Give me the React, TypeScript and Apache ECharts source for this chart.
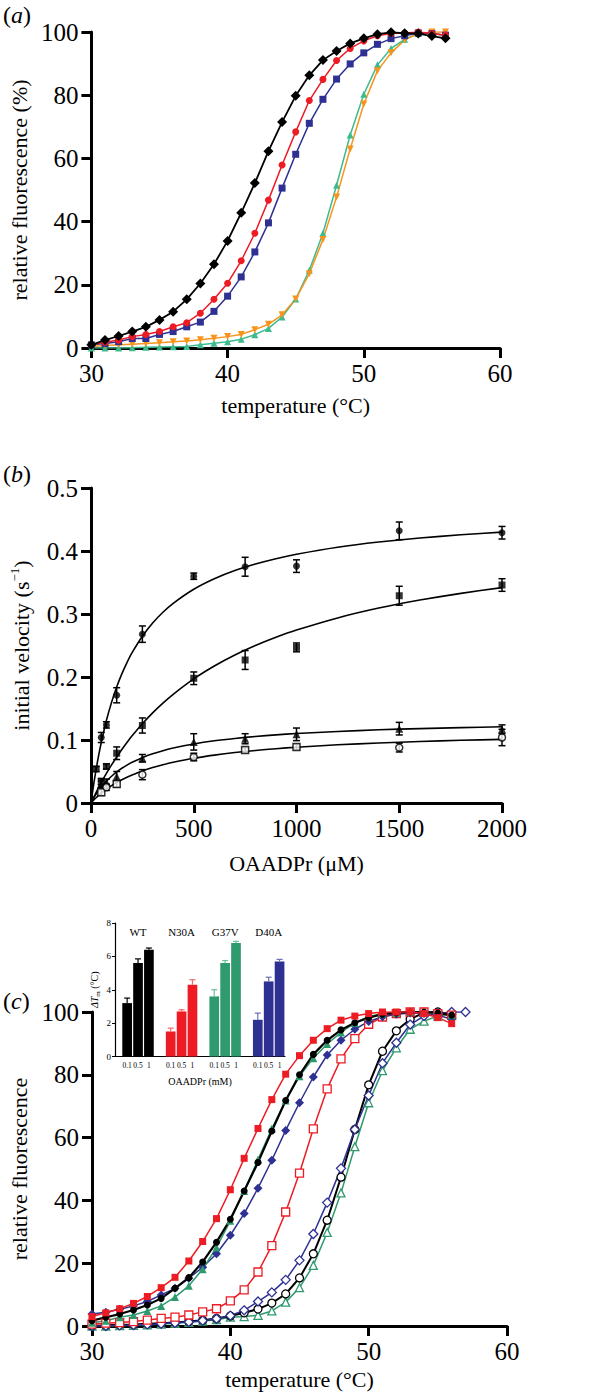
import React, { useEffect, useRef } from "react";
import * as echarts from "echarts";

const SERIF = "Liberation Serif, Times New Roman, serif";

// ---------- Panel (a) ----------
const TEMPS_A = [30, 31, 32, 33, 34, 35, 36, 37, 38, 39, 40, 41, 42, 43, 44, 45, 46, 47, 48, 49, 50, 51, 52, 53, 54, 55, 56];
const A_BLACK = [1, 2.5, 3.8, 5.2, 6.7, 8.9, 11.5, 15.4, 20.4, 26.5, 33.9, 42.8, 52.2, 62.3, 71.5, 79.8, 86.3, 91.1, 94, 96.4, 98, 99.3, 99.9, 99.6, 99.5, 98.7, 98];
const A_RED = [1, 1.8, 2.5, 3.6, 4.3, 5.2, 6.7, 8, 11, 15.4, 20.5, 27.6, 36.3, 46.8, 57.9, 68.4, 78.3, 85, 91, 94.8, 97.2, 98.8, 99.5, 99.7, 100, 99.5, 99];
const A_BLUE = [1, 1.4, 2, 3, 3, 4.3, 5.2, 6.7, 8.2, 11.6, 16.4, 22.5, 30.4, 39.6, 50.6, 61.3, 71.1, 78.7, 85.1, 89.9, 93.4, 96.1, 97.9, 98.8, 99.7, 99.5, 99];
const A_GREEN = [0, 0, 0, 0.1, 0.2, 0.3, 0.4, 0.5, 1, 1.5, 2, 2.8, 4.2, 6.2, 9.8, 15.5, 24.6, 36.3, 51.5, 67.4, 80.3, 89.6, 94.8, 97.7, 99.5, 99.5, 99];
const A_ORANGE = [0.5, 0.8, 1, 1.2, 1.4, 1.7, 2, 2.2, 2.6, 3.1, 3.6, 4.3, 5.8, 7.5, 10.5, 15.5, 23.5, 34.3, 47.8, 63, 77.2, 87.7, 93.4, 97.5, 99.5, 100, 100];

// ---------- Panel (b) ----------
const B_CIRCLE_X = [50, 75, 125, 250, 500, 750, 1000, 1500, 2000];
const B_CIRCLE_Y = [0.104, 0.124, 0.171, 0.268, 0.36, 0.375, 0.376, 0.432, 0.429];
const B_CIRCLE_E = [0.008, 0.005, 0.012, 0.013, 0.005, 0.015, 0.01, 0.014, 0.01];
const B_SQUARE_X = [25, 50, 75, 125, 250, 500, 750, 1000, 1500, 2000];
const B_SQUARE_Y = [0.054, 0.034, 0.058, 0.079, 0.123, 0.198, 0.227, 0.247, 0.329, 0.346];
const B_SQUARE_E = [0.004, 0.005, 0.004, 0.01, 0.012, 0.01, 0.015, 0.007, 0.015, 0.01];
const B_TRI_X = [50, 75, 125, 250, 500, 750, 1000, 1500, 2000];
const B_TRI_Y = [0.03, 0.033, 0.042, 0.071, 0.097, 0.102, 0.109, 0.118, 0.117];
const B_TRI_E = [0.005, 0.005, 0.008, 0.006, 0.013, 0.008, 0.01, 0.01, 0.007];
const B_OPEN_X = [50, 75, 125, 250, 500, 750, 1000, 1500, 2000];
const B_OPEN_Y = [0.017, 0.025, 0.03, 0.045, 0.073, 0.084, 0.089, 0.088, 0.104];
const B_OPEN_E = [0.005, 0.005, 0.005, 0.008, 0.006, 0.004, 0.004, 0.007, 0.013];
const B_OPEN_SYMBOL = ["rect", "circle", "rect", "circle", "circle", "rect", "rect", "circle", "circle"];

// fitted curves
const FIT_X = [0, 12.5, 25, 37.5, 50, 75, 100, 125, 150, 175, 200, 250, 300, 350, 400, 500, 600, 700, 800, 900, 1000, 1200, 1400, 1600, 1800, 2000];
const FIT_CIRCLE = [0, 0.0284, 0.0535, 0.076, 0.0961, 0.1309, 0.1597, 0.1841, 0.2049, 0.2229, 0.2387, 0.2648, 0.2858, 0.3028, 0.317, 0.3393, 0.356, 0.369, 0.3793, 0.3878, 0.3948, 0.4059, 0.4142, 0.4206, 0.4258, 0.43];
const FIT_SQUARE = [0, 0.0086, 0.0168, 0.0247, 0.0324, 0.0469, 0.0604, 0.0731, 0.0849, 0.0961, 0.1066, 0.1258, 0.1431, 0.1586, 0.1726, 0.197, 0.2174, 0.2349, 0.2499, 0.263, 0.2745, 0.2938, 0.3094, 0.3221, 0.3328, 0.3419];
const FIT_TRI = [0, 0.0074, 0.014, 0.0199, 0.0253, 0.0347, 0.0425, 0.0493, 0.0551, 0.0601, 0.0646, 0.072, 0.0781, 0.083, 0.0872, 0.0937, 0.0987, 0.1025, 0.1056, 0.1082, 0.1103, 0.1136, 0.1162, 0.1181, 0.1197, 0.121];
const FIT_OPEN = [0, 0.0043, 0.0083, 0.0121, 0.0156, 0.0219, 0.0275, 0.0325, 0.0369, 0.0409, 0.0445, 0.0509, 0.0562, 0.0607, 0.0646, 0.071, 0.076, 0.0801, 0.0834, 0.0862, 0.0886, 0.0924, 0.0953, 0.0976, 0.0995, 0.101];

// ---------- Panel (c) ----------
const TEMPS_C = [30, 31, 32, 33, 34, 35, 36, 37, 38, 39, 40, 41, 42, 43, 44, 45, 46, 47, 48, 49, 50, 51, 52, 53, 54, 55, 56, 57];
const C_RED_F = [3, 4.2, 5.5, 7.2, 9.4, 12.2, 15.5, 20.7, 26.9, 34.2, 43.4, 53.4, 62.9, 72.1, 80.2, 86.1, 91, 94.7, 97.4, 98.7, 99.5, 100, 100, 100, 99.5, 98.2, 96.3];
const C_BLACK_F = [1.7, 2.8, 3.8, 5.1, 6.7, 8.8, 12, 15.4, 20.4, 26.7, 34, 43, 52.1, 62.1, 71.8, 80, 86.5, 91, 94.3, 96.6, 98.2, 99.3, 99.7, 100, 100, 99.7, 99];
const C_GREEN_F = [1, 1.7, 2.8, 3.5, 4.8, 6.4, 9.2, 12.8, 18.1, 25, 33.5, 43, 53, 62.9, 71.8, 79.5, 85.3, 89.8, 93.5, 96.5, 98.5, 99.5, 99.8, 100, 99.8, 99.5, 99];
const C_BLUE_F = [3.8, 4.4, 5.3, 6.4, 7.8, 9.9, 12, 15.2, 18.7, 23, 28.9, 35.8, 43.9, 52.8, 62.3, 71.1, 79.3, 86.3, 91, 94.5, 97, 98.5, 99.3, 99.7, 99.5, 99, 97.7];
const C_RED_O = [0.6, 0.9, 1.1, 1.4, 1.9, 2.4, 2.8, 3.5, 4.5, 5.5, 8, 11.5, 17.2, 25.6, 36.3, 48.7, 62.8, 75.5, 85.1, 91.5, 96.1, 98.4, 99.5, 100, 100, 99.5, 99];
const C_BLUE_O = [0, 0, 0.2, 0.3, 0.5, 0.7, 1, 1.3, 1.7, 2.3, 3.3, 5, 7.8, 10.7, 14.7, 20.9, 29.3, 39.3, 50.2, 62.6, 73.4, 83.7, 90.2, 96, 98.7, 99.5, 100, 100];
const C_BLACK_O = [0, 0.2, 0.4, 0.5, 0.7, 0.9, 1.1, 1.4, 1.8, 2.4, 3.2, 4.2, 5.4, 7.3, 10.2, 15.3, 23, 33.7, 47.4, 62.6, 76.8, 87.5, 94, 97.7, 99.8, 100, 99.3];
const C_GREEN_O = [0, 0, 0.1, 0.2, 0.4, 0.6, 0.9, 1.2, 1.6, 2, 2.8, 3, 3.4, 4.8, 7.6, 12.2, 19.3, 29.8, 42.4, 57.1, 71.1, 81.3, 88.6, 94.5, 97.1, 98.7, 99.3];

// ---------- Inset ----------
const INSET_GROUPS = ["WT", "N30A", "G37V", "D40A"];
const INSET_DOSES = ["0.1", "0.5", "1"];
const DTM_WT = [3.2, 5.6, 6.4];
const DTM_N30A = [1.5, 2.7, 4.3];
const DTM_G37V = [3.6, 5.6, 6.8];
const DTM_D40A = [2.2, 4.5, 5.7];
const ERR_WT = [0.3, 0.25, 0.1];
const ERR_N30A = [0.2, 0.1, 0.3];
const ERR_G37V = [0.4, 0.15, 0.1];
const ERR_D40A = [0.4, 0.25, 0.12];

const RED = "#ed1c24";
const BLUE = "#2e3192";
const GREEN_A = "#3dbb8e";
const ORANGE = "#f7941d";
const GREEN_C = "#2e9a6e";

const INSET_FILL = ["#000000", RED, GREEN_C, BLUE];
const INSET_ERR = ["#000000", "#f0686c", "#6cbf9c", "#6b6fb8"];

function pairs(xs: number[], ys: number[]) {
  return ys.map((y, i) => [xs[i], y]);
}

const plain = (v: number) => String(Math.round(v * 1000) / 1000);

function xAxisBase(gridIndex: number, min: number, max: number, interval: number, name: any, nameGap: number) {
  return {
    type: "value",
    gridIndex,
    min,
    max,
    interval,
    name,
    nameLocation: "middle",
    nameGap,
    nameTextStyle: { fontFamily: SERIF, fontSize: 22, color: "#000" },
    axisLine: { show: true, onZero: false, lineStyle: { color: "#000", width: 3 } },
    axisTick: { show: true, inside: false, length: 10, lineStyle: { color: "#000", width: 3 } },
    axisLabel: { fontFamily: SERIF, fontSize: 25, color: "#000", margin: 13, formatter: plain },
    splitLine: { show: false },
  };
}

function yAxisBase(gridIndex: number, min: number, max: number, interval: number, name: any, nameGap: number, rich?: any) {
  return {
    type: "value",
    gridIndex,
    min,
    max,
    interval,
    name,
    nameLocation: "middle",
    nameGap,
    nameTextStyle: { fontFamily: SERIF, fontSize: 22, color: "#000", rich },
    axisLine: { show: true, onZero: false, lineStyle: { color: "#000", width: 3 } },
    axisTick: { show: true, inside: false, length: 10, lineStyle: { color: "#000", width: 3 } },
    axisLabel: { fontFamily: SERIF, fontSize: 25, color: "#000", margin: 13, formatter: plain },
    splitLine: { show: false },
  };
}

function lineSeries(axis: number, xs: number[], ys: number[], color: string, symbol: string, size: number, opts: any = {}) {
  const open = !!opts.open;
  return {
    type: "line",
    xAxisIndex: axis,
    yAxisIndex: axis,
    data: pairs(xs, ys),
    symbol,
    symbolSize: size,
    symbolRotate: opts.rotate || 0,
    showSymbol: true,
    lineStyle: { color, width: opts.width || 1.5 },
    itemStyle: open
      ? { color: "#ffffff", borderColor: color, borderWidth: 1.3 }
      : { color, borderColor: color, borderWidth: 0 },
    emphasis: { disabled: true },
    z: opts.z || 2,
  };
}

function errorSeries(xs: number[], ys: number[], es: number[]) {
  return {
    type: "custom",
    xAxisIndex: 1,
    yAxisIndex: 1,
    data: ys.map((y, i) => [xs[i], y, es[i]]),
    renderItem: (params: any, api: any) => {
      const x = api.value(0);
      const y = api.value(1);
      const e = api.value(2);
      const hi = api.coord([x, y + e]);
      const lo = api.coord([x, y - e]);
      const st = { stroke: "#000", lineWidth: 1.5 };
      return {
        type: "group",
        children: [
          { type: "line", shape: { x1: hi[0], y1: hi[1], x2: lo[0], y2: lo[1] }, style: st },
          { type: "line", shape: { x1: hi[0] - 3.5, y1: hi[1], x2: hi[0] + 3.5, y2: hi[1] }, style: st },
          { type: "line", shape: { x1: lo[0] - 3.5, y1: lo[1], x2: lo[0] + 3.5, y2: lo[1] }, style: st },
        ],
      };
    },
    z: 3,
  };
}

function scatterSeries(xs: number[], ys: number[], symbol: string, size: number, open = false, symbols?: string[]) {
  return {
    type: "scatter",
    xAxisIndex: 1,
    yAxisIndex: 1,
    data: ys.map((y, i) => (symbols ? { value: [xs[i], y], symbol: symbols[i] } : [xs[i], y])),
    symbol,
    symbolSize: size,
    itemStyle: open
      ? { color: "#ffffff", borderColor: "#000", borderWidth: 1.5 }
      : { color: "#000" },
    emphasis: { disabled: true },
    z: 4,
  };
}

function fitSeries(ys: number[]) {
  return {
    type: "line",
    xAxisIndex: 1,
    yAxisIndex: 1,
    data: pairs(FIT_X, ys),
    showSymbol: false,
    symbol: "none",
    smooth: 0.2,
    lineStyle: { color: "#000", width: 1.6 },
    emphasis: { disabled: true },
    z: 2,
  };
}

function buildInsetData() {
  const vals = [DTM_WT, DTM_N30A, DTM_G37V, DTM_D40A];
  const errs = [ERR_WT, ERR_N30A, ERR_G37V, ERR_D40A];
  const out: number[][] = [];
  vals.forEach((arr, g) => {
    arr.forEach((v, k) => {
      out.push([g * 4 + k, v, errs[g][k], g, k]);
    });
  });
  return out;
}

function buildOption() {
  const panelLetter = (letter: string, top: number) => ({
    type: "text",
    left: 3,
    top,
    style: {
      text: "{p|(}{i|" + letter + "}{p|)}",
      rich: {
        p: { fontFamily: SERIF, fontSize: 24, fill: "#000", color: "#000" },
        i: { fontFamily: SERIF, fontSize: 24, fontStyle: "italic", fill: "#000", color: "#000" },
      },
    },
  });

  return {
    animation: false,
    backgroundColor: "#ffffff",
    textStyle: { fontFamily: SERIF },
    grid: [
      { left: 83, top: 32, width: 417, height: 316 },
      { left: 85, top: 488, width: 417, height: 315 },
      { left: 88, top: 1012, width: 419, height: 314 },
      { left: 115, top: 923, width: 170, height: 133.5 },
    ],
    xAxis: [
      xAxisBase(0, 30, 60, 10, "temperature (°C)", 46),
      xAxisBase(1, 0, 2000, 500, "OAADPr (μM)", 49),
      xAxisBase(2, 30, 60, 10, "temperature (°C)", 42),
      {
        type: "value",
        gridIndex: 3,
        min: -0.615,
        max: 15,
        name: "OAADPr (mM)",
        nameLocation: "middle",
        nameGap: 20,
        nameTextStyle: { fontFamily: SERIF, fontSize: 10, color: "#000" },
        axisLine: { show: true, onZero: false, lineStyle: { color: "#000", width: 1.2 } },
        axisTick: { show: false },
        axisLabel: { show: false },
        splitLine: { show: false },
      },
    ],
    yAxis: [
      yAxisBase(0, 0, 100, 20, "relative fluorescence (%)", 54),
      yAxisBase(1, 0, 0.5, 0.1, "{a|initial velocity (s}{s|−1}{a|)}", 57, {
        a: { fontFamily: SERIF, fontSize: 22, color: "#000", lineHeight: 26 },
        s: { fontFamily: SERIF, fontSize: 13, color: "#000", verticalAlign: "top", lineHeight: 26 },
      }),
      yAxisBase(2, 0, 100, 20, "relative fluorescence", 62),
      {
        type: "value",
        gridIndex: 3,
        min: 0,
        max: 8,
        interval: 2,
        name: "{i|ΔT}{s|m}{n| (°C)}",
        nameLocation: "middle",
        nameGap: 14,
        nameTextStyle: {
          rich: {
            i: { fontFamily: SERIF, fontSize: 10, fontStyle: "italic", color: "#000", lineHeight: 12 },
            s: { fontFamily: SERIF, fontSize: 7, color: "#000", verticalAlign: "bottom", lineHeight: 14 },
            n: { fontFamily: SERIF, fontSize: 10, color: "#000", lineHeight: 12 },
          },
        },
        axisLine: { show: true, onZero: false, lineStyle: { color: "#000", width: 1.2 } },
        axisTick: { show: true, inside: false, length: 3, lineStyle: { color: "#000", width: 1 } },
        axisLabel: { fontFamily: SERIF, fontSize: 9, color: "#000", margin: 4 },
        splitLine: { show: false },
      },
    ],
    graphic: [panelLetter("a", 3), panelLetter("b", 462), panelLetter("c", 989)],
    series: [
      // panel (a)
      lineSeries(0, TEMPS_A, A_GREEN, GREEN_A, "triangle", 7),
      lineSeries(0, TEMPS_A, A_ORANGE, ORANGE, "triangle", 7, { rotate: 180 }),
      lineSeries(0, TEMPS_A, A_BLUE, BLUE, "rect", 7),
      lineSeries(0, TEMPS_A, A_RED, RED, "circle", 7),
      lineSeries(0, TEMPS_A, A_BLACK, "#000000", "diamond", 10, { width: 1.8 }),
      // panel (b)
      fitSeries(FIT_CIRCLE),
      fitSeries(FIT_SQUARE),
      fitSeries(FIT_TRI),
      fitSeries(FIT_OPEN),
      errorSeries(B_CIRCLE_X, B_CIRCLE_Y, B_CIRCLE_E),
      errorSeries(B_SQUARE_X, B_SQUARE_Y, B_SQUARE_E),
      errorSeries(B_TRI_X, B_TRI_Y, B_TRI_E),
      errorSeries(B_OPEN_X, B_OPEN_Y, B_OPEN_E),
      scatterSeries(B_CIRCLE_X, B_CIRCLE_Y, "circle", 7),
      scatterSeries(B_SQUARE_X, B_SQUARE_Y, "rect", 7),
      scatterSeries(B_TRI_X, B_TRI_Y, "triangle", 8),
      scatterSeries(B_OPEN_X, B_OPEN_Y, "circle", 7, true, B_OPEN_SYMBOL),
      // panel (c)
      lineSeries(2, TEMPS_C, C_GREEN_O, GREEN_C, "triangle", 8, { open: true }),
      lineSeries(2, TEMPS_C, C_BLACK_O, "#000000", "circle", 8, { open: true, width: 2 }),
      lineSeries(2, TEMPS_C, C_BLUE_O, BLUE, "diamond", 9, { open: true }),
      lineSeries(2, TEMPS_C, C_RED_O, RED, "rect", 8, { open: true }),
      lineSeries(2, TEMPS_C, C_BLUE_F, BLUE, "diamond", 9),
      lineSeries(2, TEMPS_C, C_GREEN_F, GREEN_C, "triangle", 8),
      lineSeries(2, TEMPS_C, C_BLACK_F, "#000000", "circle", 7, { width: 2.2 }),
      lineSeries(2, TEMPS_C, C_RED_F, RED, "rect", 7),
      // inset bars
      {
        type: "custom",
        xAxisIndex: 3,
        yAxisIndex: 3,
        data: buildInsetData(),
        renderItem: (params: any, api: any) => {
          const s = api.value(0);
          const v = api.value(1);
          const e = api.value(2);
          const g = api.value(3);
          const k = api.value(4);
          const bl = api.coord([s, 0]);
          const tr = api.coord([s + 1, v]);
          const gap = 0.6;
          const cx = (bl[0] + tr[0]) / 2;
          const top = api.coord([s, v + e])[1];
          const errStyle = { stroke: INSET_ERR[g], lineWidth: 1.2 };
          const children: any[] = [
            {
              type: "rect",
              shape: { x: bl[0] + gap, y: tr[1], width: tr[0] - bl[0] - 2 * gap, height: bl[1] - tr[1] },
              style: { fill: INSET_FILL[g] },
            },
            { type: "line", shape: { x1: cx, y1: tr[1], x2: cx, y2: top }, style: errStyle },
            { type: "line", shape: { x1: cx - 3, y1: top, x2: cx + 3, y2: top }, style: errStyle },
            {
              type: "text",
              x: cx,
              y: bl[1] + 5,
              style: {
                text: INSET_DOSES[k],
                fontFamily: SERIF,
                fontSize: 7.5,
                fill: "#000",
                align: "center",
                verticalAlign: "top",
              },
            },
          ];
          if (k === 1) {
            const yTop = api.coord([s, 8])[1];
            children.push({
              type: "text",
              x: cx,
              y: yTop + 3,
              style: {
                text: INSET_GROUPS[g],
                fontFamily: SERIF,
                fontSize: 11,
                fill: "#000",
                align: "center",
                verticalAlign: "top",
              },
            });
          }
          return { type: "group", children };
        },
        z: 5,
      },
    ],
  };
}

export default function App() {
  const ref = useRef<HTMLDivElement>(null);
  useEffect(() => {
    if (!ref.current) return;
    const chart = echarts.init(ref.current, undefined, { renderer: "svg" });
    chart.setOption(buildOption() as any);
    return () => chart.dispose();
  }, []);
  return (
    <div
      ref={ref}
      style={{ position: "absolute", left: 0, top: 0, width: 592, height: 1393, background: "#fff" }}
    />
  );
}
